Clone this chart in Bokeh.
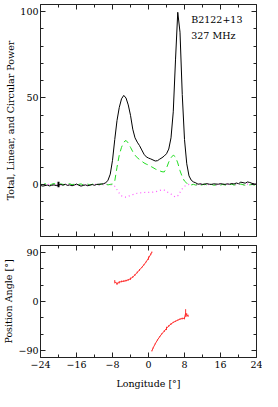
import numpy as np
from bokeh.plotting import figure
from bokeh.layouts import column
from bokeh.models import (LinearAxis, FixedTicker, Range1d, Label,
                          CustomJSTickFormatter, CustomLabelingPolicy)
from bokeh.embed import file_html
from bokeh.resources import INLINE

FONT = "DejaVu Serif"
FS = "9.5px"

# ---------------- data ----------------
lon = np.arange(-24.0, 24.01, 0.5)

total = [-0.5, -0.9, -0.6, -0.3, -0.8, -0.4, -0.2, -0.6, -0.3, 0.1,
         -0.4, 0.2, -0.5, -0.2, -0.7, -0.3, 0.3, -0.4, -0.9, -0.5,
         -0.2, -0.7, -0.3, 0.0, -0.4, 0.1, 0.2, 0.3,
         0.5, 1.0, 2.5, 6.0, 14.0, 26.0, 37.0, 44.5, 49.5, 51.5,
         50.0, 46.0, 40.0, 32.0, 27.0, 24.5, 22.5, 20.0, 17.5, 16.0,
         15.3, 14.8, 14.2, 13.6, 13.8, 14.7, 15.5, 16.5, 17.8, 20.5,
         27.0, 42.0, 72.0, 99.5, 88.0, 52.0, 26.0, 12.0, 5.0, 2.5,
         1.5, 1.0,
         0.2, 0.4, 0.1, 0.3, 0.5, 0.2, 0.1, 0.4, 0.3, 0.2,
         0.5, 0.3, 0.1, 0.4, 0.2, 0.6, 0.3, 0.9, 0.5, 1.4,
         1.1, 0.8, 1.5, 1.2, 0.7, 0.4, 0.2]

linear = [0.3, -0.2, 0.5, 0.1, -0.4, 0.2, 0.6, 0.0, -0.3, 0.4,
          0.1, -0.2, 0.3, 0.5, -0.1, 0.2, -0.4, 0.1, 0.4, -0.2,
          0.0, 0.3, -0.3, 0.2, 0.5, 0.1, -0.1, 0.3, 0.0, 0.2,
          -0.2, 0.1, 0.3,
          2.0, 10.0, 17.0, 21.5, 24.5, 25.5, 24.0, 21.5, 19.0, 17.0,
          15.5, 14.5, 13.5, 12.5, 11.8, 11.3, 10.5, 9.8, 9.0, 8.4,
          7.9, 7.4, 7.3, 9.5, 13.0, 15.5, 17.0, 16.0, 12.5, 8.0,
          4.5, 2.0, 0.8, 0.3,
          -0.2, 0.1, -0.3, 0.0, -0.4, -0.1, 0.2, -0.3, -0.1, 0.1,
          -0.4, -0.2, 0.0, -0.3, 0.1, -0.2, -0.5, -0.1, 0.2, -0.3,
          0.0, -0.2, 0.3, -0.1, -0.4, 0.0, -0.2, 0.1, -0.3, -0.1]

circular = [-0.2, 0.1, -0.3, 0.2, 0.0, -0.1, 0.3, -0.2, 0.1, -0.3,
            0.0, 0.2, -0.1, -0.3, 0.1, 0.0, -0.2, 0.2, -0.1, 0.0,
            0.3, -0.2, 0.1, -0.1, 0.2, 0.0, -0.3, 0.1, -0.1, 0.2,
            0.0, -0.2, -0.3,
            -1.0, -3.0, -5.0, -6.5, -7.2, -7.3, -6.8, -6.2, -5.8, -5.4,
            -5.0, -4.8, -4.7, -4.6, -4.5, -4.5, -4.3, -4.4, -4.2, -3.8,
            -3.4, -3.0, -3.2, -4.0, -4.8, -5.5, -6.5, -7.2, -6.5, -4.5,
            -2.5, -1.0, -0.3, 0.1,
            0.2, 0.0, -0.2, 0.1, 0.3, -0.1, 0.0, 0.2, -0.2, 0.1,
            0.0, -0.3, 0.1, 0.2, -0.1, 0.0, 0.3, -0.2, 0.1, 0.0,
            -0.1, 0.2, 0.0, -0.2, 0.1, 0.3, 0.0, -0.1, 0.2, 0.0]

# off-pulse noise error bar
noise_lon = [-20.0]
noise_val = [0.0]
noise_err = [1.6]

# position angle, two branches (wrap at +/-90)
pa_lon_a = [-7.5, -7.0, -6.5, -6.0, -5.5, -5.0, -4.5, -4.0, -3.5, -3.0,
            -2.5, -2.0, -1.5, -1.0, -0.5, 0.0, 0.5, 0.75]
pa_a = [36, 32.5, 35, 36.5, 37, 38, 39.5, 41.5, 44.5, 48.5,
        53, 57.5, 62, 67, 72.5, 79, 86, 90]
pa_err_a = [3, 2.5, 2, 1.5, 1.5, 1.5, 1.5, 2, 1.5, 1.5,
            1.5, 1.5, 1, 1, 1, 3, 1.5, 1]

pa_lon_b = [0.75, 1.0, 1.5, 2.0, 2.5, 3.0, 3.5, 4.0, 4.5, 5.0,
            5.5, 6.0, 6.5, 7.0, 7.5, 8.0, 8.25, 8.5, 8.8]
pa_b = [-90, -85, -77, -70, -64, -58.5, -54, -49, -44.5, -41,
        -38, -36, -34, -32, -31, -30.5, -21, -24.5, -26]
pa_err_b = [1, 1, 1, 1, 1, 1, 1.5, 3, 1.5, 1.5,
            1, 1, 1, 1, 1.5, 2, 7, 3, 2]

x_ticks = [-24, -16, -8, 0, 8, 16, 24]
x_minor = list(range(-24, 25, 4))
top_y_ticks = [0, 50, 100]
top_y_minor = list(range(-30, 101, 10))
pa_ticks = [-90, 0, 90]
pa_minor = [-90, -60, -30, 0, 30, 60, 90]

# ---------------- styling helpers ----------------
fmt = CustomJSTickFormatter(code="return tick < 0 ? '\\u2212' + Math.abs(tick) : String(tick);")
W = 262
LEFT = 31
RIGHT = 6
FRAME_COL = "#222222"


def no_labels():
    return CustomLabelingPolicy(code="""
        const all = [...indices];
        for (const i of all) { indices.unset(i); }
        return indices;
    """)


def style_axis(ax, labels=True):
    ax.axis_line_color = None
    ax.major_tick_in = 5
    ax.major_tick_out = 0
    ax.minor_tick_in = 3
    ax.minor_tick_out = 0
    ax.major_tick_line_color = FRAME_COL
    ax.minor_tick_line_color = FRAME_COL
    ax.major_label_text_font = FONT
    ax.major_label_text_color = "black"
    ax.axis_label_text_font = FONT
    ax.axis_label_text_font_size = FS
    ax.axis_label_text_font_style = "normal"
    ax.axis_label_text_color = "black"
    ax.formatter = fmt
    if labels:
        ax.major_label_text_font_size = FS
    else:
        ax.major_label_text_font_size = "0px"
        ax.major_label_policy = no_labels()
        ax.major_label_standoff = 0


def base_fig(height, yr, top, bottom):
    p = figure(width=W, height=height, x_range=Range1d(-24, 24), y_range=yr,
               output_backend="svg", toolbar_location=None,
               min_border_left=LEFT, min_border_right=RIGHT,
               min_border_top=top, min_border_bottom=bottom)
    p.grid.visible = False
    p.outline_line_color = FRAME_COL
    p.outline_line_width = 1
    p.background_fill_color = "white"
    p.border_fill_color = "white"
    return p


# ---------------- top panel ----------------
p1 = base_fig(240, Range1d(-30, 104), 4, 4)
p1.xaxis.ticker = FixedTicker(ticks=x_ticks, minor_ticks=x_minor)
p1.yaxis.ticker = FixedTicker(ticks=top_y_ticks, minor_ticks=top_y_minor)
style_axis(p1.xaxis[0], labels=False)
style_axis(p1.yaxis[0], labels=True)
p1.yaxis.axis_label = "Total, Linear, and Circular Power"
p1.yaxis.axis_label_standoff = 1
p1.yaxis.major_label_standoff = 2
ax_top = LinearAxis(ticker=FixedTicker(ticks=x_ticks, minor_ticks=x_minor))
style_axis(ax_top, labels=False)
p1.add_layout(ax_top, "above")
ax_right = LinearAxis(ticker=FixedTicker(ticks=top_y_ticks, minor_ticks=top_y_minor))
style_axis(ax_right, labels=False)
p1.add_layout(ax_right, "right")

p1.line(lon, circular, line_color="#ff55ff", line_width=1.2, line_dash="1 3")
p1.line(lon, linear, line_color="#22dd22", line_width=1, line_dash="6 4")
p1.line(lon, total, line_color="black", line_width=1)
p1.segment(x0=noise_lon, y0=[v - e for v, e in zip(noise_val, noise_err)],
           x1=noise_lon, y1=[v + e for v, e in zip(noise_val, noise_err)],
           line_color="black", line_width=2)

p1.add_layout(Label(x=9.5, y=95.3, text="B2122+13", text_font=FONT,
                    text_font_size=FS, text_baseline="middle", text_color="black"))
p1.add_layout(Label(x=9.5, y=86.2, text="327 MHz", text_font=FONT,
                    text_font_size=FS, text_baseline="middle", text_color="black"))

# ---------------- bottom panel ----------------
p2 = base_fig(151, Range1d(-102, 102), 5, 32)
p2.xaxis.ticker = FixedTicker(ticks=x_ticks, minor_ticks=x_minor)
p2.yaxis.ticker = FixedTicker(ticks=pa_ticks, minor_ticks=pa_minor)
style_axis(p2.xaxis[0], labels=True)
style_axis(p2.yaxis[0], labels=True)
p2.xaxis.axis_label = "Longitude [°]"
p2.xaxis.major_label_standoff = 3
p2.xaxis.axis_label_standoff = 7
p2.yaxis.axis_label = "Position Angle [°]"
p2.yaxis.axis_label_standoff = 1
p2.yaxis.major_label_standoff = 2
ax_top2 = LinearAxis(ticker=FixedTicker(ticks=x_ticks, minor_ticks=x_minor))
style_axis(ax_top2, labels=False)
p2.add_layout(ax_top2, "above")
ax_right2 = LinearAxis(ticker=FixedTicker(ticks=pa_ticks, minor_ticks=pa_minor))
style_axis(ax_right2, labels=False)
p2.add_layout(ax_right2, "right")

RED = "#ff3030"
for xs, ys, es in ((pa_lon_a, pa_a, pa_err_a), (pa_lon_b, pa_b, pa_err_b)):
    p2.line(xs, ys, line_color=RED, line_width=1)
    p2.segment(x0=xs, y0=[y - e for y, e in zip(ys, es)],
               x1=xs, y1=[y + e for y, e in zip(ys, es)],
               line_color=RED, line_width=1)

layout = column(p1, p2, spacing=0)
open("out.html", "w").write(file_html(layout, INLINE))
